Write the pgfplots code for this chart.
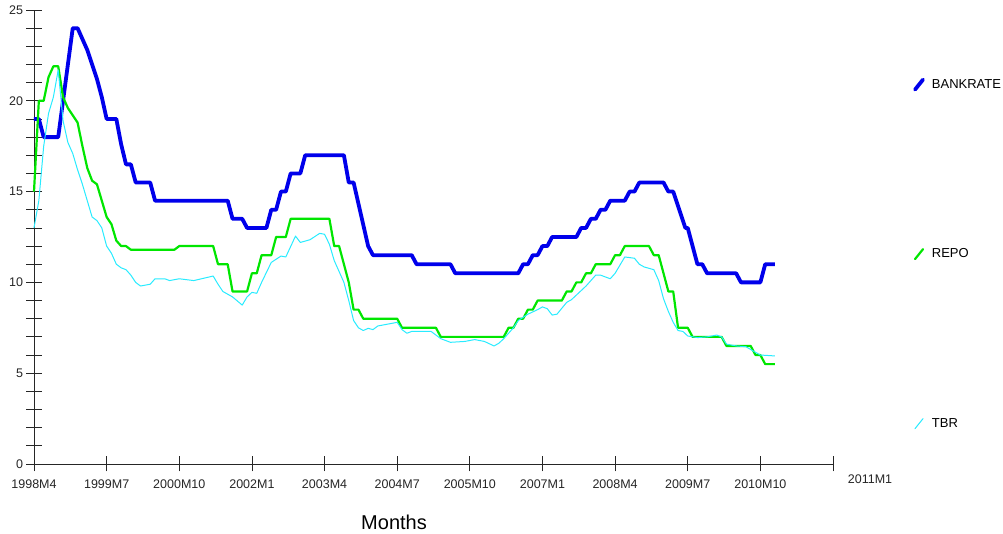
\documentclass[border=0pt]{standalone}
\usepackage{fontspec}
\setmainfont{Liberation Sans}
\usepackage{pgfplots}
\pgfplotsset{compat=1.18}
\definecolor{cbank}{RGB}{0,0,235}
\definecolor{crepo}{RGB}{0,230,0}
\definecolor{ctbr}{RGB}{40,235,255}
\begin{document}
\begin{tikzpicture}
\path[use as bounding box] (-34pt,-70pt) rectangle (969pt,464pt);
\begin{axis}[
  scale only axis, width=799pt, height=454pt,
  xmin=0, xmax=165, ymin=0, ymax=25,
  axis x line=bottom, axis y line=left,
  axis line style={-, black!85, line width=0.8pt},
  xtick={0,15,...,165},
  xticklabels={1998M4,1999M7,2000M10,2002M1,2003M4,2004M7,2005M10,2007M1,2008M4,2009M7,2010M10,{}},
  ytick={0,5,...,25}, minor ytick={1,...,24},
  tick align=center, major tick length=15pt, minor tick length=15pt,
  tick style={black!85, line width=0.8pt},
  ticklabel style={font=\fontsize{12.5}{14}\selectfont, text=black!85},
  xticklabel style={yshift=-5pt},
  /pgf/number format/assume math mode=true,
  xlabel={Months},
  xlabel style={font=\fontsize{20}{24}\selectfont, at={(0.4506,-0.1278)}, anchor=center},
  clip=false,
  legend style={draw=none, fill=none, at={(1.1,0.852)}, anchor=north west, inner sep=0pt,
    row sep=155pt, font=\fontsize{13}{15}\selectfont},
  legend cell align=left,
  legend image code/.code={\draw[#1, line cap=round] (0pt,-5pt) -- (8pt,5pt); \path (13pt,0pt);},
]
\addplot[cbank, line width=3.8pt, line join=round] coordinates {
(0,19) (1,19) (2,18) (5,18) (8,24) (9,24) (10,23.4) (11,22.8) (12,22) (13,21.2) (14,20.2) (15,19) (17,19)
(18,17.6) (19,16.5) (20,16.5) (21,15.5) (24,15.5) (25,14.5) (40,14.5) (41,13.5) (43,13.5) (44,13) (48,13)
(49,14) (50,14) (51,15) (52,15) (53,16) (55,16) (56,17) (64,17) (65,15.5) (66,15.5) (69,12) (70,11.5)
(78,11.5) (79,11) (86,11) (87,10.5) (100,10.5) (101,11) (102,11) (103,11.5) (104,11.5) (105,12) (106,12)
(107,12.5) (112,12.5) (113,13) (114,13) (115,13.5) (116,13.5) (117,14) (118,14) (119,14.5) (122,14.5)
(123,15) (124,15) (125,15.5) (130,15.5) (131,15) (132,15) (134.5,13) (135,13) (137,11) (138,11) (139,10.5)
(145,10.5) (146,10) (150,10) (151,11) (153,11)
};
\addlegendentry{BANKRATE}
\addplot[crepo, line width=2.2pt, line join=round] coordinates {
(0,15) (1,20) (2,20) (3,21.3) (4,21.9) (5,21.9) (6,20.2) (7,19.6) (9,18.8) (10,17.5) (11,16.3) (12,15.6)
(13,15.4) (14,14.5) (15,13.6) (16,13.2) (17,12.3) (18,12) (19,12) (20,11.8) (29,11.8) (30,12) (37,12)
(38,11) (40,11) (41,9.5) (44,9.5) (45,10.5) (46,10.5) (47,11.5) (49,11.5) (50,12.5) (52,12.5) (53,13.5)
(61,13.5) (62,12) (63,12) (64,11) (65,10) (66,8.5) (67,8.5) (68,8) (75,8) (76,7.5) (83,7.5) (84,7)
(97,7) (98,7.5) (99,7.5) (100,8) (101,8) (102,8.5) (103,8.5) (104,9) (109,9) (110,9.5) (111,9.5) (112,10)
(113,10) (114,10.5) (115,10.5) (116,11) (119,11) (120,11.5) (121,11.5) (122,12) (127,12) (128,11.5)
(129,11.5) (131,9.5) (132,9.5) (133,7.5) (135,7.5) (136,7) (142,7) (143,6.5) (148,6.5) (149,6) (150,6)
(151,5.5) (153,5.5)
};
\addlegendentry{REPO}
\addplot[ctbr, line width=1pt, line join=round] coordinates {
(0,13) (1,14.5) (2,17.5) (3,19.3) (4,20.2) (5,21.7) (6,18.9) (7,17.7) (8,17.1) (9,16.2) (10,15.4) (11,14.5)
(12,13.6) (13,13.4) (14,13) (15,12) (16,11.6) (17,11) (18,10.8) (19,10.7) (20,10.4) (21,10) (22,9.8)
(23,9.85) (24,9.9) (25,10.2) (27,10.2) (28,10.1) (30,10.2) (33,10.1) (37,10.35) (38,9.9) (39,9.5) (41,9.2)
(43,8.75) (44,9.2) (45,9.45) (46,9.4) (47,10) (49,11.1) (51,11.45) (52,11.4) (54,12.55) (55,12.2) (57,12.35)
(59,12.7) (60,12.65) (61,12.1) (62,11.2) (63,10.6) (64,10) (65,9) (66,7.9) (67,7.5) (68,7.35) (69,7.47)
(70,7.4) (71,7.6) (73,7.7) (75,7.8) (76,7.4) (77,7.2) (78,7.3) (82,7.3) (84,6.9) (86,6.7) (89,6.75)
(91,6.85) (93,6.75) (95,6.5) (96,6.65) (97,6.9) (99,7.5) (100,7.9) (102,8.25) (104,8.5) (105,8.65)
(106,8.55) (107,8.2) (108,8.25) (110,8.9) (111,9.05) (112,9.3) (114,9.8) (116,10.4) (117,10.4) (119,10.2)
(120,10.5) (122,11.4) (124,11.33) (125,11) (126,10.85) (128,10.7) (129,10.1) (130,9.1) (131,8.4) (132,7.8)
(133,7.35) (134,7.3) (135,7.05) (137,6.96) (139,7.0) (141,7.1) (142,7.0) (143,6.6) (145,6.5) (147,6.46)
(149,6.15) (150,6.0) (153,5.95)
};
\addlegendentry{TBR}
\node[font=\fontsize{12.5}{14}\selectfont, text=black!85] at (rel axis cs:1.0463,-0.033) {2011M1};
\end{axis}
\end{tikzpicture}
\end{document}
